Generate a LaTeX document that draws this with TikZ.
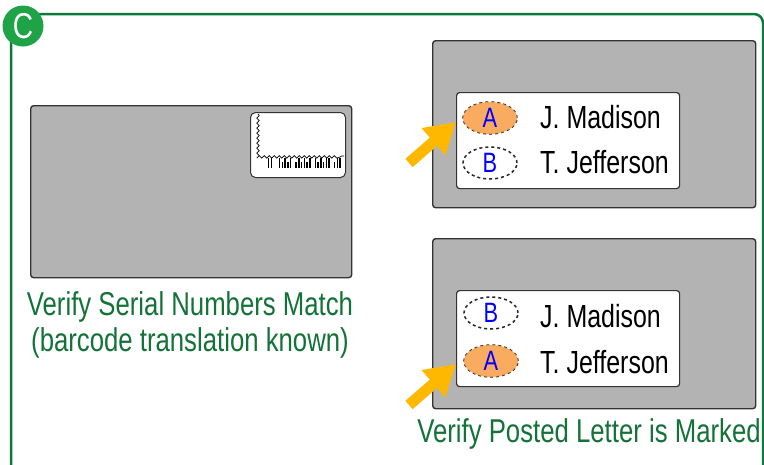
\documentclass[tikz,border=0pt]{standalone}
\usepackage{fontspec}
\setmainfont{Liberation Sans}
\newfontfamily\condensed[FakeStretch=0.78]{Liberation Sans}
\usetikzlibrary{arrows.meta,decorations.pathmorphing,shapes.geometric}

\definecolor{framegreen}{HTML}{0B7A3B}
\definecolor{badgegreen}{HTML}{1EA346}
\definecolor{textgreen}{HTML}{137238}
\definecolor{envgray}{HTML}{B3B3B3}
\definecolor{edgegray}{HTML}{333333}
\definecolor{markorange}{HTML}{F9A04B}
\definecolor{pointer}{HTML}{FFB800}

\tikzset{
  envelope/.style={draw=edgegray, fill=envgray, line width=1.4pt, rounded corners=3pt,
    inner sep=0pt, anchor=north west},
  namecard/.style={draw=edgegray, fill=white, line width=1.2pt, rounded corners=3pt,
    inner sep=0pt, anchor=north west},
  slot/.style={ellipse, draw=black!85, dash pattern=on 3pt off 3pt, line width=1.5pt,
    minimum width=54pt, minimum height=32pt, inner sep=0pt, text=blue,
    font=\condensed\fontsize{28}{28}\selectfont},
  marked/.style={slot, postaction={fill=markorange, fill opacity=0.88}},
  person/.style={anchor=base west, inner sep=0pt, font=\condensed\fontsize{32}{32}\selectfont},
  caption/.style={text=textgreen, align=center, inner sep=0pt,
    font=\condensed\fontsize{33}{36}\selectfont},
  pointerarrow/.style={draw=pointer, line width=11pt,
    -{Triangle[length=30pt, width=34pt, fill=pointer]}},
}

\begin{document}
\begin{tikzpicture}[x=1pt, y=-1pt]
\useasboundingbox (0,0) rectangle (764,464);

% outer frame and badge
\draw[framegreen, line width=2.5pt, rounded corners=9pt] (11,14) rectangle (763,478);
\node[circle, fill=badgegreen, minimum size=41pt, inner sep=0pt, text=white,
      font=\condensed\fontsize{36}{36}\selectfont] (badge) at (23,26) {C};

% left envelope with address label
\node[envelope, minimum width=321pt, minimum height=172pt] (envL) at (30,105) {};
\node[namecard, minimum width=95pt, minimum height=65pt, line width=1pt,
      rounded corners=5pt] (label) at (250,112) {};
\draw[line width=0.7pt, decorate, decoration={snake, amplitude=1.2pt, segment length=5pt}]
  (258,114) -- (258,156) -- (344,156);
% barcode: full and half bars in groups (0 leaves a gap)
\foreach \h [count=\i] in {10,10,0,0,10,6,10,6,10,0,6,10,6,10,6,10,0,10,6,10,6,10,10,0,6,10,10}{
  \ifnum\h>0
    \fill (265+\i*2.75,168) rectangle ++(1.5,-\h);
  \fi
}
\node[caption] (capL) at (190,325) {Verify Serial Numbers Match\\(barcode translation known)};

% upper-right envelope
\node[envelope, minimum width=323pt, minimum height=167pt] (envT) at (432,40) {};
\node[namecard, minimum width=223pt, minimum height=96pt] (cardT) at (456,92) {};
\node[marked] (aT) at (490,118) {A};
\node[slot] (bT) at (490,163) {B};
\node[person] (mT) at (540,128) {J. Madison};
\node[person] (jT) at (540,173) {T. Jefferson};
\coordinate (tailT) at (409,163);
\coordinate (tipT) at (456,122);
\draw[pointerarrow] (tailT) -- (tipT);

% lower-right envelope
\node[envelope, minimum width=323pt, minimum height=170pt] (envB) at (432,238) {};
\node[namecard, minimum width=223pt, minimum height=96pt] (cardB) at (456,290) {};
\node[slot] (bB) at (491,313) {B};
\node[marked] (aB) at (491,361) {A};
\node[person] (mB) at (540,327) {J. Madison};
\node[person] (jB) at (540,373) {T. Jefferson};
\coordinate (tailB) at (409,405);
\coordinate (tipB) at (456,364);
\draw[pointerarrow] (tailB) -- (tipB);

\node[caption, anchor=base] (capR) at (589,442) {Verify Posted Letter is Marked};
\end{tikzpicture}
\end{document}
